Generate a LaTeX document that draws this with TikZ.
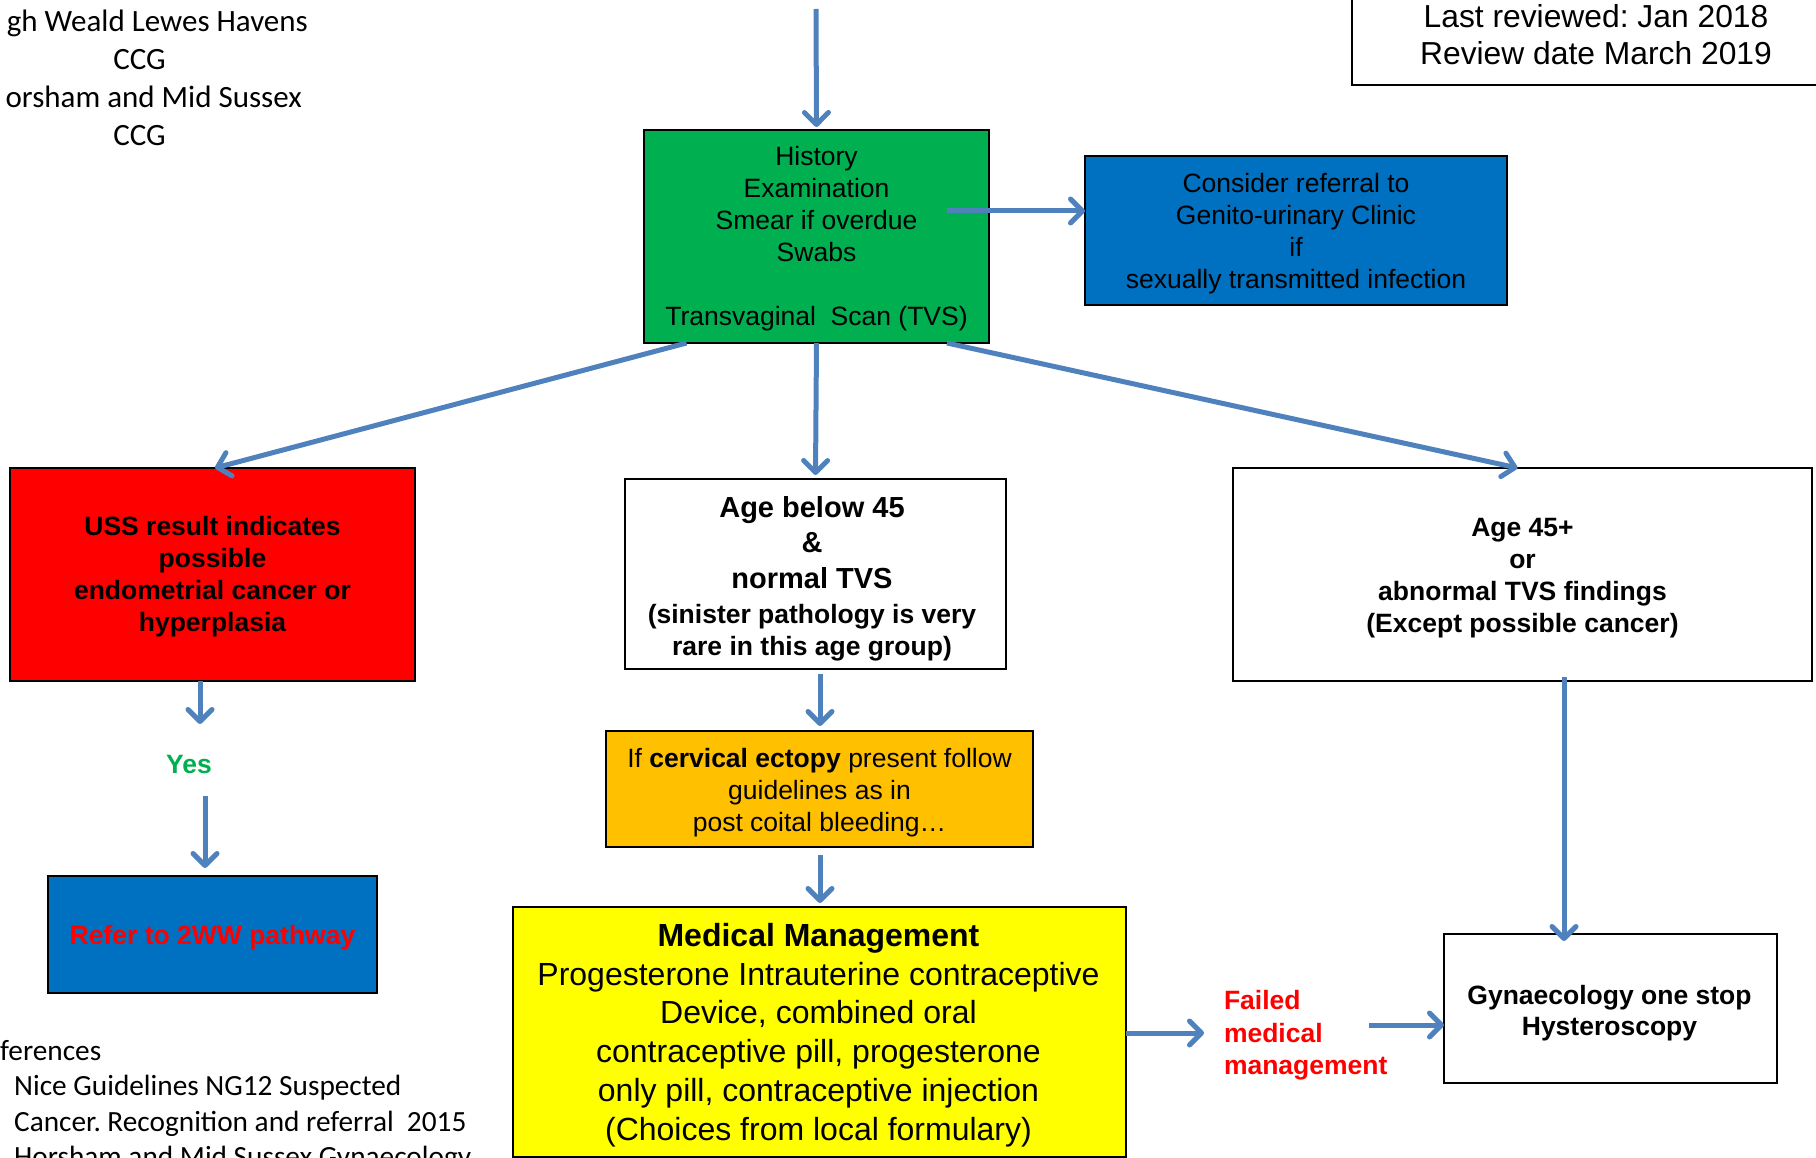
\documentclass[tikz,border=0pt]{standalone}
\usepackage{fontspec}
\setmainfont{Liberation Sans}
\newfontfamily\calib{Carlito}
\usetikzlibrary{arrows.meta,calc}
\definecolor{arrblue}{HTML}{4F81BD}
\definecolor{boxgreen}{HTML}{00B050}
\definecolor{boxblue}{HTML}{0070C0}
\definecolor{boxred}{HTML}{FF0000}
\definecolor{boxorange}{HTML}{FFC000}
\definecolor{boxyellow}{HTML}{FFFF00}
\frenchspacing
\begin{document}
\begin{tikzpicture}[x=1pt,y=-1pt,
  box/.style={draw=black, line width=2pt, inner sep=0pt, outer sep=0pt},
  arr/.style={draw=arrblue, line width=5pt, -{Straight Barb[length=12pt,width=24pt,round]}},
  tn/.style={font=\fontsize{26.5}{32}\selectfont, align=center, inner sep=0pt},
  tb/.style={font=\fontsize{26.5}{32}\selectfont\bfseries, align=center, inner sep=0pt},
  cal/.style={font=\calib\fontsize{31}{38}\selectfont\frenchspacing, inner sep=0pt},
  calr/.style={font=\calib\fontsize{29.3}{35.5}\selectfont\frenchspacing, inner sep=0pt, anchor=base west},
  plain/.style={inner sep=0pt, outer sep=0pt}]
\useasboundingbox (0,0) rectangle (1816,1158);

% header texts
\node[cal, anchor=base east] (h1) at (308,32) {gh Weald Lewes Havens};
\node[cal, anchor=base] (h2) at (139.5,70) {CCG};
\node[cal, anchor=base east] (h3) at (302,108) {orsham and Mid Sussex};
\node[cal, anchor=base] (h4) at (139.5,146) {CCG};

\node[box, minimum width=488pt, minimum height=101pt] (review) at (1596,34.5) {};
\node[tn, font=\fontsize{31.8}{37}\selectfont] (reviewT) at (review.center)
  {Last reviewed: Jan 2018\\Review date March 2019};

% boxes
\node[box, fill=boxgreen, minimum width=345pt, minimum height=213pt] (green) at (816.5,236.5) {};
\node[tn] (greenT) at ([yshift=-2.5pt]green.center)
  {History\\Examination\\Smear if overdue\\Swabs\\[32pt]Transvaginal~~Scan (TVS)};

\node[box, fill=boxblue, minimum width=422pt, minimum height=149pt] (gum) at (1296,230.5) {};
\node[tn] (gumT) at ([yshift=-3pt]gum.center)
  {Consider referral to\\Genito-urinary Clinic\\if\\sexually transmitted infection};

\node[box, fill=boxred, minimum width=405pt, minimum height=213pt] (red) at (212.5,574.5) {};
\node[tb] (redT) at ([yshift=-2.5pt]red.center)
  {USS result indicates\\possible\\endometrial cancer or\\hyperplasia};

\node[box, minimum width=381pt, minimum height=190pt] (age1) at (815.5,574) {};
\node[tb] (age1T) at ([xshift=-3.5pt,yshift=-4.5pt]age1.center)
  {{\fontsize{29}{35}\selectfont Age below 45}\\[3pt]{\fontsize{29}{35}\selectfont\&}\\[4pt]{\fontsize{29}{35}\selectfont normal TVS}\\[3pt](sinister pathology is very\\rare in this age group)};

\node[box, minimum width=579pt, minimum height=213pt] (age2) at (1522.5,574.5) {};
\node[tb] (age2T) at ([yshift=-3.5pt]age2.center)
  {Age 45+\\or\\abnormal TVS findings\\(Except possible cancer)};

\node[box, fill=boxorange, minimum width=427pt, minimum height=116pt] (orange) at (819.5,789) {};
\node[tn] (orangeT) at ([yshift=-3.5pt]orange.center)
  {If \textbf{cervical ectopy} present follow\\guidelines as in\\post coital bleeding…};

\node[box, fill=boxyellow, minimum width=613pt, minimum height=250pt] (yellow) at (819.5,1032) {};
\node[tn, font=\fontsize{32}{38.7}\selectfont] (yellowT) at ([xshift=-1pt,yshift=-3pt]yellow.center)
  {\textbf{Medical Management}\\Progesterone Intrauterine contraceptive\\Device, combined oral\\contraceptive pill, progesterone\\only pill, contraceptive injection\\(Choices from local formulary)};

\node[box, fill=boxblue, minimum width=329pt, minimum height=117pt] (twoww) at (212.5,934.5) {};
\node[tb, text=boxred] (twowwT) at ([yshift=-3.5pt]twoww.center) {Refer to 2WW pathway};

\node[box, minimum width=333pt, minimum height=149pt] (gyn) at (1610.5,1008.5) {};
\node[tb, font=\fontsize{26.5}{31}\selectfont\bfseries] (gynT) at ([xshift=-1pt,yshift=-4.5pt]gyn.center)
  {Gynaecology one stop\\Hysteroscopy};

\node[plain, tb, text=boxgreen] (yes) at (189,765) {Yes};
\node[plain, font=\fontsize{26.5}{32.5}\selectfont\bfseries, text=boxred, align=left, anchor=west] (failed) at (1224,1035.5)
  {Failed\\medical\\management};

% references
\node[calr] (r1) at (0,1060) {ferences};
\node[calr] (r2) at (14,1095) {Nice Guidelines NG12 Suspected};
\node[calr] (r3) at (14,1131) {Cancer. Recognition and referral~~2015};
\node[calr] (r4) at (14,1166) {Horsham and Mid Sussex Gynaecology};

% connectors
\coordinate (top) at (816,9);
\draw[arr] (top) -- ([yshift=3pt]green.north);
\coordinate (gs) at (947,211);
\draw[arr] (gs) -- (gs -| gum.west);
\draw[arr] ([xshift=-130pt]green.south) -- ([xshift=2.5pt]red.north);
\draw[arr] (green.south) -- ([yshift=4pt]age1.north);
\draw[arr] ([xshift=130.5pt]green.south) -- ([xshift=-5pt]age2.north);
\coordinate (y1) at (200,724);
\draw[arr] (red.south -| y1) -- (y1);
\coordinate (y2) at (205,796);
\draw[arr] (y2) -- ([yshift=8pt]y2 |- twoww.north);
\coordinate (o1) at (820,674);
\draw[arr] (o1) -- ([yshift=5pt]o1 |- orange.north);
\coordinate (o2) at (820,855);
\draw[arr] (o2) -- ([yshift=4pt]o2 |- yellow.north);
\coordinate (g1) at (1564,677);
\draw[arr] (g1) -- ([yshift=-7pt]g1 |- gyn.north);
\coordinate (f1) at (1204,1033);
\draw[arr] (yellow.east |- f1) -- (f1);
\coordinate (f2) at (1369,1025);
\draw[arr] (f2) -- (f2 -| gyn.west);
\end{tikzpicture}
\end{document}
